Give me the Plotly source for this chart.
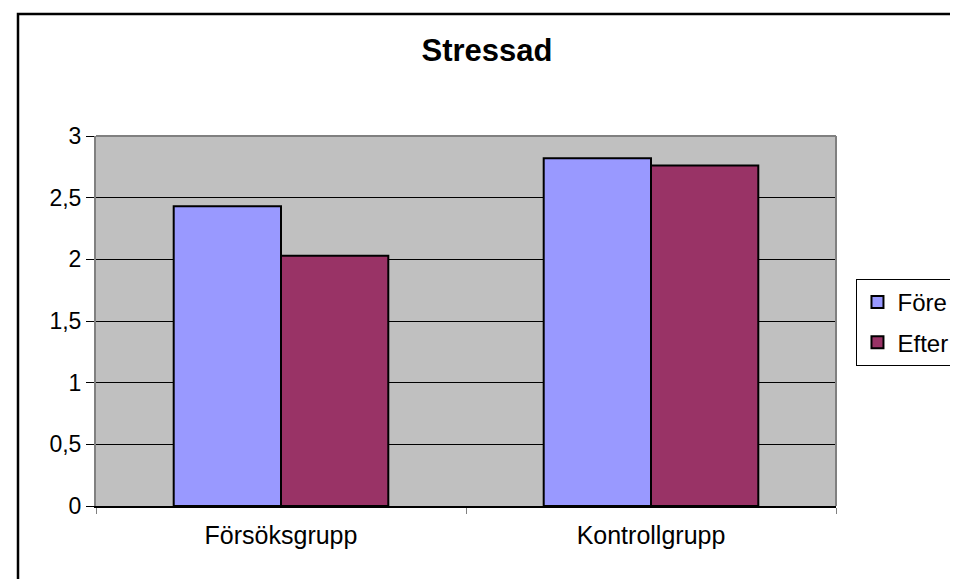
import plotly.graph_objects as go

categories = ["Försöksgrupp", "Kontrollgrupp"]
series_names = ["Före", "Efter"]
fore_values = [2.43, 2.82]
efter_values = [2.03, 2.76]
y_tickvals = [0, 0.5, 1, 1.5, 2, 2.5, 3]
y_ticktext = ["0", "0,5", "1", "1,5", "2", "2,5", "3"]
title_text = "Stressad"

colors = ["#9999FF", "#993366"]
FONT = "Liberation Sans, Arial, sans-serif"

L, R, T, B = 88, 111, 128, 81
W, H = 958, 579
pw = W - L - R
ph = H - T - B

fig = go.Figure()
for name, vals, col in zip(series_names, [fore_values, efter_values], colors):
    fig.add_trace(go.Bar(
        x=categories, y=vals, name=name, legendgroup=name,
        marker=dict(color=col, line=dict(color="black", width=2)),
    ))

def px_to_paper_x(p):
    return (p - L) / pw

def px_to_paper_y(p):
    return (H - B - p) / ph

fig.update_layout(
    width=W, height=H,
    margin=dict(l=L, r=R, t=T, b=B, pad=0),
    paper_bgcolor="white",
    plot_bgcolor="#C0C0C0",
    barmode="group",
    bargap=0.42,
    bargroupgap=0,
    separators=", ",
    font=dict(family=FONT, color="black", size=22),
    title=dict(text="<b>" + title_text + "</b>", font=dict(size=31, family=FONT),
               x=px_to_paper_x(489), xref="paper", xanchor="center",
               y=1 - 42 / H, yref="container", yanchor="middle"),
    legend=dict(x=px_to_paper_x(868), y=px_to_paper_y(271), xanchor="left", yanchor="top",
                bordercolor="black", borderwidth=1, bgcolor="white",
                font=dict(size=24, family=FONT), tracegroupgap=6,
                traceorder="grouped", entrywidth=100, entrywidthmode="pixels"),
    xaxis=dict(showline=True, linecolor="black", linewidth=1.5,
               ticks="outside", tickson="boundaries", ticklen=6, tickcolor="#808080",
               tickfont=dict(size=25), showgrid=False, ticklabelstandoff=6),
    yaxis=dict(range=[0, 3], tickvals=y_tickvals, ticktext=y_ticktext,
               showline=True, linecolor="#808080", linewidth=2,
               ticks="outside", ticklen=8, tickcolor="black",
               showgrid=True, gridcolor="black", gridwidth=1,
               tickfont=dict(size=23), zeroline=False),
    shapes=[
        dict(type="line", xref="paper", yref="paper", x0=0, x1=1, y0=1, y1=1,
             line=dict(color="#808080", width=2), layer="above"),
        dict(type="line", xref="paper", yref="paper", x0=1, x1=1, y0=0, y1=1,
             line=dict(color="#808080", width=2), layer="above"),
        dict(type="rect", xref="paper", yref="paper",
             x0=px_to_paper_x(8), x1=px_to_paper_x(975),
             y0=px_to_paper_y(590), y1=px_to_paper_y(6),
             line=dict(color="black", width=2.5), fillcolor="rgba(0,0,0,0)", layer="above"),
    ],
)

fig.write_html("out.html")
